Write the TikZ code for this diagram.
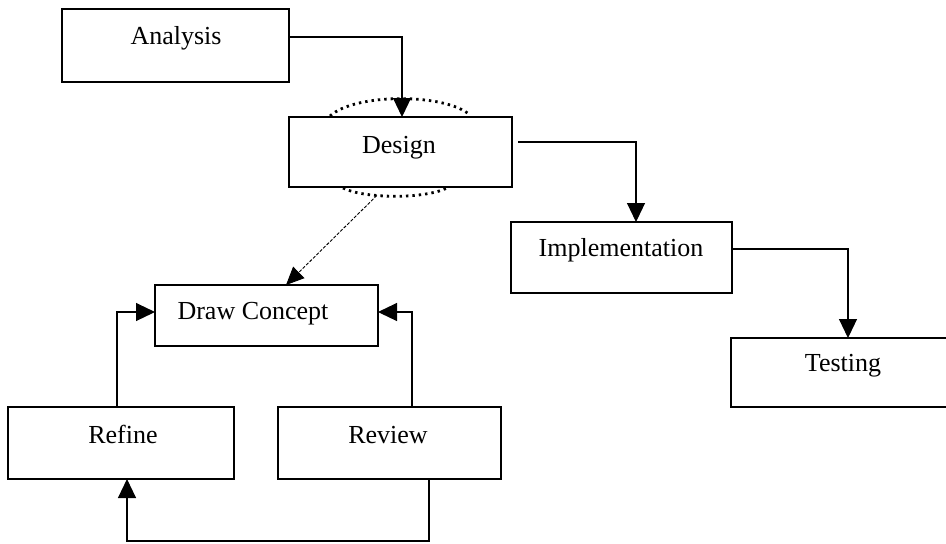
\documentclass[tikz,border=0pt]{standalone}
\usepackage{fontspec}
\setmainfont{Liberation Serif}
\usetikzlibrary{arrows.meta,calc}

\tikzset{
  box/.style={draw, line width=0.65pt, inner sep=0pt, outer sep=0pt},
  lbl/.style={anchor=mid, inner sep=0pt, font=\fontsize{13}{15}\selectfont},
  flow/.style={line width=0.55pt, -{Triangle[length=9.5pt,width=9pt]}},
  halo/.style={line width=1.4pt, dash pattern=on 1.2pt off 2pt},
  thinflow/.style={line width=0.45pt, dash pattern=on 1.6pt off 0.8pt,
    -{Triangle[length=9pt,width=8pt]}}
}

\begin{document}
\begin{tikzpicture}[x=0.5pt,y=-0.5pt]
  \useasboundingbox (0,0) rectangle (946,543);

  % process boxes
  \node[box, minimum width=113.5pt, minimum height=36.5pt] (analysis) at (175.5,45.5) {};
  \node[box, minimum width=111.5pt, minimum height=35pt]   (design)   at (400.5,152) {};
  \node[box, minimum width=110.5pt, minimum height=35.5pt] (impl)     at (621.5,257.5) {};
  \node[box, minimum width=114.5pt, minimum height=34.5pt] (testing)  at (845.5,372.5) {};
  \node[box, minimum width=111.5pt, minimum height=30.5pt] (concept)  at (266.5,315.5) {};
  \node[box, minimum width=113pt,   minimum height=36pt]   (refine)   at (121,443) {};
  \node[box, minimum width=111.5pt, minimum height=36pt]   (review)   at (389.5,443) {};

  % box labels
  \node[lbl] (tAnalysis) at (176,40)  {Analysis};
  \node[lbl] (tDesign)   at (399,149) {Design};
  \node[lbl] (tImpl)     at (621,252) {Implementation};
  \node[lbl] (tTesting)  at (843,367) {Testing};
  \node[lbl] (tConcept)  at (253,315) {Draw Concept};
  \node[lbl] (tRefine)   at (123,439) {Refine};
  \node[lbl] (tReview)   at (388,439) {Review};

  % dotted halo around the design box
  \draw[halo] ($(design.north west)+(41,-1)$) .. controls (355,93) and (445,93) .. ($(design.north west)+(181,-2)$);
  \draw[halo] ($(design.south west)+(54,1)$) .. controls (365,199) and (425,199)
     .. coordinate[pos=0.35] (designOut) ($(design.south west)+(158,1)$);

  % main waterfall flow
  \draw[flow] ($(analysis.north east)+(0,28)$) -| ($(design.north west)+(113,0)$);
  \draw[flow] ($(design.north east)+(6,25)$) -| ($(impl.north west)+(125,0)$);
  \draw[flow] ($(impl.north east)+(0,27)$) -| ($(testing.north west)+(117,0)$);

  % design detail loop
  \draw[thinflow] (designOut) -- ($(concept.north west)+(131,0)$);
  \draw[flow] ($(refine.north west)+(109,0)$) |- ($(concept.north west)+(0,27)$);
  \draw[flow] ($(review.north west)+(134,0)$) |- ($(concept.north east)+(0,27)$);
  \draw[flow] ($(review.south west)+(151,0)$) -- ++(0,62) -| ($(refine.south west)+(119,0)$);
\end{tikzpicture}
\end{document}
